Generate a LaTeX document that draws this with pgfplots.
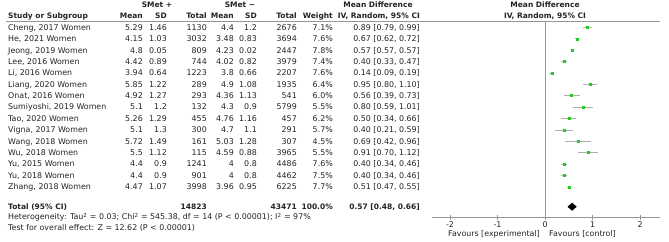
\documentclass[border=0pt]{standalone}
\usepackage{pgfplots}
\pgfplotsset{compat=1.18}
\usepackage{pgfplotstable}
\usepackage{fontspec}
\setmainfont{DejaVu Sans}

\definecolor{mkgreen}{RGB}{30,205,30}
\definecolor{cigray}{RGB}{175,175,175}
\definecolor{axgray}{RGB}{150,150,150}
\definecolor{txt}{RGB}{35,35,35}

% y (picture pt), mean difference, minus error, plus error
\pgfplotstableread{
y      md    em    ep
-27.3  0.89  0.10  0.10
-38.7  0.67  0.05  0.05
-50.1  0.57  0.00  0.00
-61.5  0.40  0.07  0.07
-72.9  0.14  0.05  0.05
-84.3  0.95  0.15  0.15
-95.6  0.56  0.17  0.17
-107.0 0.80  0.21  0.21
-118.4 0.50  0.16  0.16
-129.8 0.40  0.19  0.19
-141.2 0.69  0.27  0.27
-152.6 0.91  0.21  0.21
-164.0 0.40  0.06  0.06
-175.4 0.40  0.06  0.06
-186.8 0.51  0.04  0.04
}\studies

\newcommand{\fs}{\fontsize{7.9}{9}\selectfont}
\newcommand{\fb}{\fontsize{7.5}{9}\selectfont\bfseries}
\tikzset{cell/.style={inner sep=0pt, text height=5.8pt, text depth=0pt, font=\fs, text=txt},
         hd/.style={cell, font=\fb}}
\newcommand{\trow}[9]{%
  \node[cell,anchor=west] at (8pt,-#1pt) {#2};
  \node[cell,anchor=east] at (143pt,-#1pt) {#3};
  \node[cell,anchor=east] at (167pt,-#1pt) {#4};
  \node[cell,anchor=east] at (207pt,-#1pt) {#5};
  \node[cell,anchor=east] at (234pt,-#1pt) {#6};
  \node[cell,anchor=east] at (257pt,-#1pt) {#7};
  \node[cell,anchor=east] at (297pt,-#1pt) {#8};
  \node[cell,anchor=east] at (333pt,-#1pt) {#9};
}
\newcommand{\ci}[2]{\node[cell,anchor=east] at (420pt,-#1pt) {#2};}

\begin{document}
\begin{tikzpicture}
\path[use as bounding box] (0pt,0pt) rectangle (669pt,-241pt);

% header
\node[hd] at (157pt,-5pt) {SMet +};
\node[hd] at (240pt,-5pt) {SMet −};
\node[hd] at (378pt,-5pt) {Mean Difference};
\node[hd] at (545pt,-5pt) {Mean Difference};
\node[hd,anchor=west] at (8pt,-16pt) {Study or Subgroup};
\node[hd,anchor=east] at (143pt,-16pt) {Mean};
\node[hd,anchor=east] at (167pt,-16pt) {SD};
\node[hd,anchor=east] at (207pt,-16pt) {Total};
\node[hd,anchor=east] at (234pt,-16pt) {Mean};
\node[hd,anchor=east] at (257pt,-16pt) {SD};
\node[hd,anchor=east] at (297pt,-16pt) {Total};
\node[hd,anchor=east] at (333pt,-16pt) {Weight};
\node[hd,anchor=east] at (420pt,-16pt) {IV, Random, 95\% CI};
\node[hd] at (545pt,-16pt) {IV, Random, 95\% CI};
\draw[axgray, line width=0.6pt] (6pt,-21.7pt) -- (660pt,-21.7pt);

% rows
\trow{27.3}{Cheng, 2017 Women}{5.29}{1.46}{1130}{4.4}{1.2}{2676}{7.1\%}\ci{27.3}{0.89 [0.79, 0.99]}
\trow{38.7}{He, 2021 Women}{4.15}{1.03}{3032}{3.48}{0.83}{3694}{7.6\%}\ci{38.7}{0.67 [0.62, 0.72]}
\trow{50.1}{Jeong, 2019 Women}{4.8}{0.05}{809}{4.23}{0.02}{2447}{7.8\%}\ci{50.1}{0.57 [0.57, 0.57]}
\trow{61.5}{Lee, 2016 Women}{4.42}{0.89}{744}{4.02}{0.82}{3979}{7.4\%}\ci{61.5}{0.40 [0.33, 0.47]}
\trow{72.9}{Li, 2016 Women}{3.94}{0.64}{1223}{3.8}{0.66}{2207}{7.6\%}\ci{72.9}{0.14 [0.09, 0.19]}
\trow{84.3}{Liang, 2020 Women}{5.85}{1.22}{289}{4.9}{1.08}{1935}{6.4\%}\ci{84.3}{0.95 [0.80, 1.10]}
\trow{95.6}{Onat, 2016 Women}{4.92}{1.27}{293}{4.36}{1.13}{541}{6.0\%}\ci{95.6}{0.56 [0.39, 0.73]}
\trow{107.0}{Sumiyoshi, 2019 Women}{5.1}{1.2}{132}{4.3}{0.9}{5799}{5.5\%}\ci{107.0}{0.80 [0.59, 1.01]}
\trow{118.4}{Tao, 2020 Women}{5.26}{1.29}{455}{4.76}{1.16}{457}{6.2\%}\ci{118.4}{0.50 [0.34, 0.66]}
\trow{129.8}{Vigna, 2017 Women}{5.1}{1.3}{300}{4.7}{1.1}{291}{5.7\%}\ci{129.8}{0.40 [0.21, 0.59]}
\trow{141.2}{Wang, 2018 Women}{5.72}{1.49}{161}{5.03}{1.28}{307}{4.5\%}\ci{141.2}{0.69 [0.42, 0.96]}
\trow{152.6}{Wu, 2018 Women}{5.5}{1.12}{115}{4.59}{0.88}{3965}{5.5\%}\ci{152.6}{0.91 [0.70, 1.12]}
\trow{164.0}{Yu, 2015 Women}{4.4}{0.9}{1241}{4}{0.8}{4486}{7.6\%}\ci{164.0}{0.40 [0.34, 0.46]}
\trow{175.4}{Yu, 2018 Women}{4.4}{0.9}{901}{4}{0.8}{4462}{7.5\%}\ci{175.4}{0.40 [0.34, 0.46]}
\trow{186.8}{Zhang, 2018 Women}{4.47}{1.07}{3998}{3.96}{0.95}{6225}{7.7\%}\ci{186.8}{0.51 [0.47, 0.55]}

% total
\node[hd,anchor=west] at (8pt,-206.5pt) {Total (95\% CI)};
\node[hd,anchor=east] at (207pt,-206.5pt) {14823};
\node[hd,anchor=east] at (297pt,-206.5pt) {43471};
\node[hd,anchor=east] at (333pt,-206.5pt) {100.0\%};
\node[hd,anchor=east] at (420pt,-206.5pt) {0.57 [0.48, 0.66]};
\node[cell,anchor=west] at (8pt,-217pt) {Heterogeneity: Tau\textsuperscript{2} = 0.03; Chi\textsuperscript{2} = 545.38, df = 14 (P < 0.00001); I\textsuperscript{2} = 97\%};
\node[cell,anchor=west] at (8pt,-228pt) {Test for overall effect: Z = 12.62 (P < 0.00001)};

\begin{axis}[
  at={(432pt,-217.3pt)}, anchor=south west,
  scale only axis, width=228pt, height=195.6pt,
  xmin=-2.38, xmax=2.42, ymin=-217.3, ymax=-21.7,
  axis x line=bottom, axis y line=none,
  x axis line style={-, axgray, line width=0.6pt},
  xtick={-2,-1,0,1,2},
  xtick align=center, major tick length=5pt,
  xtick style={axgray, line width=0.6pt},
  tick label style={font=\fs, text=txt},
  /pgf/number format/assume math mode=true,
  xticklabel style={yshift=1.5pt},
  clip=false,
]
\addplot[axgray, line width=0.8pt] coordinates {(0,-217.3) (0,-21.7)};
\addplot[only marks, mark=square*, mark size=1.0pt, mark options={fill=mkgreen, draw=mkgreen},
  error bars/.cd, x dir=both, x explicit, error mark=none,
  error bar style={cigray, line width=0.6pt}]
  table[x=md, y=y, x error minus=em, x error plus=ep] {\studies};
\addplot[fill=black, draw=black] coordinates {(0.48,-206.7) (0.57,-203.0) (0.66,-206.7) (0.57,-210.4)} -- cycle;
\end{axis}

\node[cell,anchor=east] at (540pt,-233.3pt) {Favours [experimental]};
\node[cell,anchor=west] at (549pt,-233.3pt) {Favours [control]};
\end{tikzpicture}
\end{document}
